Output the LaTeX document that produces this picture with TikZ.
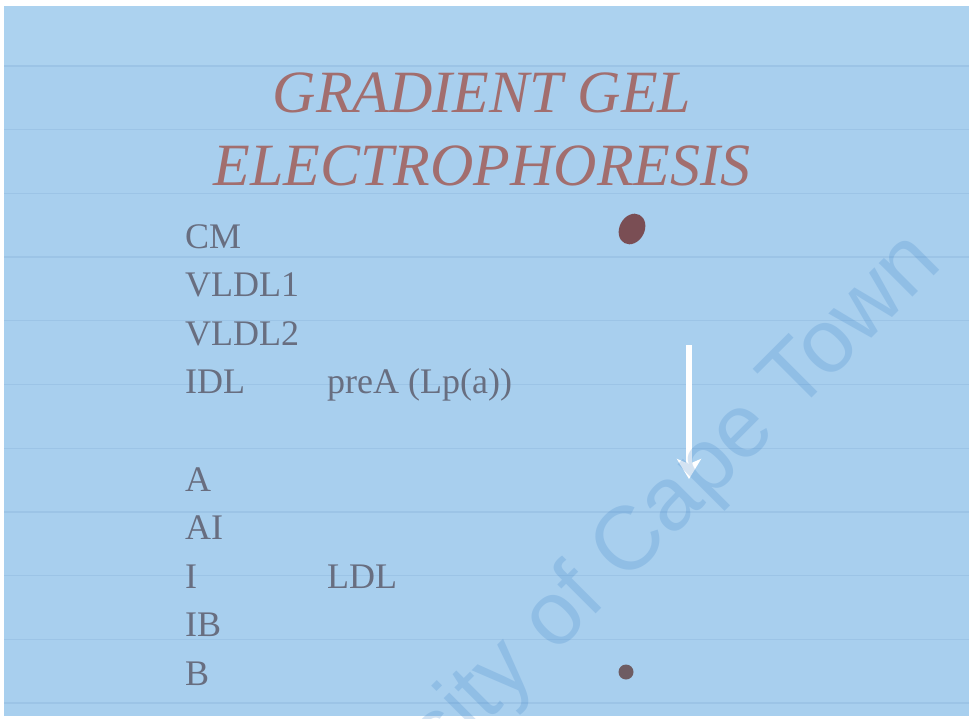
\documentclass[tikz,border=0pt]{standalone}
\usepackage{fontspec}
\setmainfont{Liberation Serif}
\newfontfamily\wmfont{Liberation Sans}
\usetikzlibrary{arrows.meta,shapes.geometric}
\definecolor{slidebg}{RGB}{168,207,238}
\definecolor{slidetop}{RGB}{172,210,239}
\definecolor{stripecol}{RGB}{156,196,230}
\definecolor{titlecol}{RGB}{162,110,110}
\definecolor{listcol}{RGB}{104,110,128}
\definecolor{dotcol}{RGB}{122,78,84}
\definecolor{smalldotcol}{RGB}{110,92,98}
\definecolor{wmcol}{RGB}{60,130,200}
\tikzset{
  stripe/.style={draw=stripecol, line width=1.2pt},
  titletext/.style={anchor=base, inner sep=0pt, text=titlecol, font=\fontsize{60}{66}\selectfont\itshape},
  listtext/.style={anchor=base west, inner sep=0pt, text=listcol, font=\fontsize{36}{40}\selectfont},
  gelarrow/.style={draw=white, line width=6pt, -{Stealth[width=24pt,length=20pt,inset=5pt]}},
  watermark/.style={anchor=base west, inner sep=0pt, rotate=45, text=wmcol, text opacity=0.22, font=\wmfont\fontsize{90}{92}\selectfont}
}
\begin{document}
\begin{tikzpicture}[x=1pt,y=-1pt]
\useasboundingbox (0,0) rectangle (971,719);
\fill[white] (0,0) rectangle (971,719);
\begin{scope}
\clip (0,0) rectangle (971,719);
\fill[slidebg] (4,6) rectangle (969,716);
\fill[slidetop] (4,6) rectangle (969,66);
\foreach \k in {0,...,10} {
  \draw[stripe] (4,{66+63.7*\k}) -- (969,{66+63.7*\k});
}
% title
\node[titletext] (t1) at (482,113) {GRADIENT GEL};
\node[titletext] (t2) at (482,186) {ELECTROPHORESIS};
% list
\node[listtext] (cm) at (185,248) {CM};
\node[listtext] (vldl1) at (185,296.6) {VLDL1};
\node[listtext] (vldl2) at (185,345.2) {VLDL2};
\node[listtext] (idl) at (185,393.8) {IDL};
\node[listtext] (prea) at (327,393.8) {preA (Lp(a))};
\node[listtext] (a) at (185,491) {A};
\node[listtext] (ai) at (185,539.6) {AI};
\node[listtext] (i) at (185,588.2) {I};
\node[listtext] (ldl) at (327,588.2) {LDL};
\node[listtext] (ib) at (185,636.8) {IB};
\node[listtext] (b) at (185,685.4) {B};
% spots
\node[ellipse, fill=dotcol, draw=none, minimum width=32pt, minimum height=25pt, inner sep=0pt, rotate=62] (spot1) at (632,229) {};
\node[circle, fill=smalldotcol, draw=none, minimum size=15pt, inner sep=0pt] (spot2) at (626,672) {};
% arrow
\coordinate (arrtop) at (689,345);
\coordinate (arrbot) at (689,479);
\draw[gelarrow] (arrtop) -- (arrbot);
% watermark
\node[watermark] (wm) at (258,952) {University of Cape Town};
\end{scope}
\end{tikzpicture}
\end{document}
